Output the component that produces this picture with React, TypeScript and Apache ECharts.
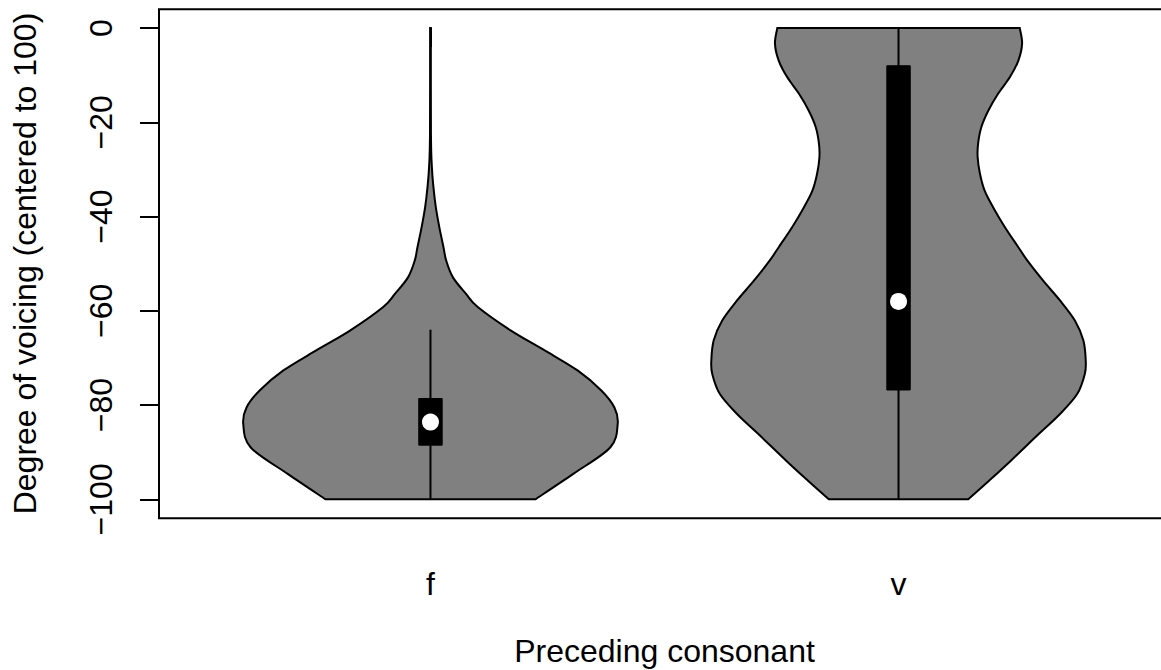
import React, { useEffect, useRef } from 'react';
import * as echarts from 'echarts';

const categories = ['f', 'v'];
const categoryPositions = [1, 2];
const yTicks = [-100, -80, -60, -40, -20, 0];

// Density outlines: y values and half-widths (x-axis units) of each violin
const fDensityY = [0, -22.4, -29.5, -33.8, -38, -42.3, -46.5, -49.3, -52.9, -56.4, -59.2, -64.2, -68.4, -72.7, -76.9, -80.5, -84, -89, -94.6, -100];
const fHalfWidth = [0.0008, 0.001, 0.003, 0.0064, 0.0114, 0.019, 0.0278, 0.0335, 0.048, 0.076, 0.101, 0.172, 0.244, 0.315, 0.365, 0.393, 0.4, 0.384, 0.305, 0.224];

const vDensityY = [0, -3.3, -6.9, -10.4, -13.9, -17.5, -21, -24.5, -27.4, -30.9, -34.5, -38, -42.2, -46.5, -49.3, -53.6, -57.8, -62.1, -66.3, -70.6, -73.4, -77.6, -81.9, -86.1, -91.8, -96, -100];
const vHalfWidth = [0.259, 0.264, 0.256, 0.238, 0.213, 0.192, 0.177, 0.17, 0.169, 0.174, 0.184, 0.202, 0.227, 0.256, 0.275, 0.309, 0.345, 0.377, 0.395, 0.4, 0.398, 0.382, 0.345, 0.3, 0.24, 0.194, 0.149];

// Box statistics per category
const whiskerLow = [-100, -100];
const quartile1 = [-88.5, -76.8];
const medians = [-83.6, -58];
const quartile3 = [-78.6, -8];
const whiskerHigh = [-64, 0];
const boxHalfWidth = 0.025;

const violins = [
  { y: fDensityY, w: fHalfWidth },
  { y: vDensityY, w: vHalfWidth },
];

const FONT = '"Liberation Sans", Arial, Helvetica, sans-serif';

type Pt = number[];

// Catmull-Rom spline through points, emitted as cubic bezier segments
function splineSegments(pts: Pt[]): string {
  let d = '';
  for (let i = 0; i < pts.length - 1; i++) {
    const p0 = pts[Math.max(i - 1, 0)];
    const p1 = pts[i];
    const p2 = pts[i + 1];
    const p3 = pts[Math.min(i + 2, pts.length - 1)];
    const c1x = p1[0] + (p2[0] - p0[0]) / 6;
    const c1y = p1[1] + (p2[1] - p0[1]) / 6;
    const c2x = p2[0] - (p3[0] - p1[0]) / 6;
    const c2y = p2[1] - (p3[1] - p1[1]) / 6;
    d += ` C ${c1x} ${c1y} ${c2x} ${c2y} ${p2[0]} ${p2[1]}`;
  }
  return d;
}

export default function App() {
  const ref = useRef<HTMLDivElement>(null);

  useEffect(() => {
    if (!ref.current) return;
    const chart = echarts.init(ref.current, undefined, { renderer: 'svg' });

    const option: any = {
      animation: false,
      backgroundColor: '#ffffff',
      grid: {
        left: 159,
        top: 9.2,
        width: 1011,
        height: 509,
        outerBoundsMode: 'none',
        containLabel: false,
        show: true,
        borderColor: '#000',
        borderWidth: 2,
        backgroundColor: 'transparent',
      },
      xAxis: {
        type: 'value',
        min: 0.42,
        max: 2.58,
        axisLine: { show: false },
        splitLine: { show: false },
        axisTick: {
          show: true,
          customValues: categoryPositions,
          length: 19,
          lineStyle: { color: '#000', width: 2 },
        },
        axisLabel: {
          customValues: categoryPositions,
          formatter: (v: number) => categories[Math.round(v) - 1] ?? '',
          fontSize: 32,
          fontFamily: FONT,
          color: '#000',
          margin: 50,
        },
      },
      yAxis: {
        type: 'value',
        min: -104,
        max: 4,
        axisLine: { show: false },
        splitLine: { show: false },
        axisTick: {
          show: true,
          customValues: yTicks,
          length: 19,
          lineStyle: { color: '#000', width: 2 },
        },
        axisLabel: {
          customValues: yTicks,
          rotate: 90,
          formatter: (v: number) => String(v).replace('-', '\u2212'),
          fontSize: 32,
          fontFamily: FONT,
          color: '#000',
          margin: 42,
        },
      },
      graphic: [
        {
          type: 'text',
          x: 664.5,
          y: 651,
          style: {
            text: 'Preceding consonant',
            fontSize: 32,
            fontFamily: FONT,
            fill: '#000',
            align: 'center',
            verticalAlign: 'middle',
          },
        },
        {
          type: 'text',
          x: 25,
          y: 263.5,
          rotation: Math.PI / 2,
          style: {
            text: 'Degree of voicing (centered to 100)',
            fontSize: 32,
            fontFamily: FONT,
            fill: '#000',
            align: 'center',
            verticalAlign: 'middle',
          },
        },
      ],
      series: [
        {
          type: 'custom',
          z: 2,
          data: categoryPositions.map((x, i) => [x, medians[i]]),
          renderItem: (params: any, api: any) => {
            const i = params.dataIndex;
            const center = categoryPositions[i];
            const vio = violins[i];
            const left = vio.y.map((y, k) => api.coord([center - vio.w[k], y]));
            const right = vio.y.map((y, k) => api.coord([center + vio.w[k], y])).reverse();
            let d = `M ${left[0][0]} ${left[0][1]}`;
            d += splineSegments(left);
            d += ` L ${right[0][0]} ${right[0][1]}`;
            d += splineSegments(right);
            d += ' Z';
            return {
              type: 'path',
              shape: { pathData: d },
              style: { fill: '#808080', stroke: '#000', lineWidth: 2 },
            };
          },
        },
        {
          type: 'custom',
          z: 3,
          data: categoryPositions.map((x, i) => [x, medians[i]]),
          renderItem: (params: any, api: any) => {
            const i = params.dataIndex;
            const center = categoryPositions[i];
            const lo = api.coord([center, whiskerLow[i]]);
            const hi = api.coord([center, whiskerHigh[i]]);
            const b1 = api.coord([center - boxHalfWidth, quartile3[i]]);
            const b2 = api.coord([center + boxHalfWidth, quartile1[i]]);
            return {
              type: 'group',
              children: [
                {
                  type: 'line',
                  shape: { x1: lo[0], y1: lo[1], x2: hi[0], y2: hi[1] },
                  style: { stroke: '#000', lineWidth: 2 },
                },
                {
                  type: 'rect',
                  shape: { x: b1[0], y: b1[1], width: b2[0] - b1[0], height: b2[1] - b1[1] },
                  style: { fill: '#000', stroke: '#000', lineWidth: 1 },
                },
              ],
            };
          },
        },
        {
          type: 'scatter',
          z: 4,
          symbol: 'circle',
          symbolSize: 17,
          itemStyle: { color: '#fff', opacity: 1 },
          data: categoryPositions.map((x, i) => [x, medians[i]]),
        },
      ],
    };

    chart.setOption(option);
    return () => chart.dispose();
  }, []);

  return (
    <div
      ref={ref}
      style={{ position: 'fixed', left: 0, top: 0, width: 1161, height: 670, background: '#fff' }}
    />
  );
}
